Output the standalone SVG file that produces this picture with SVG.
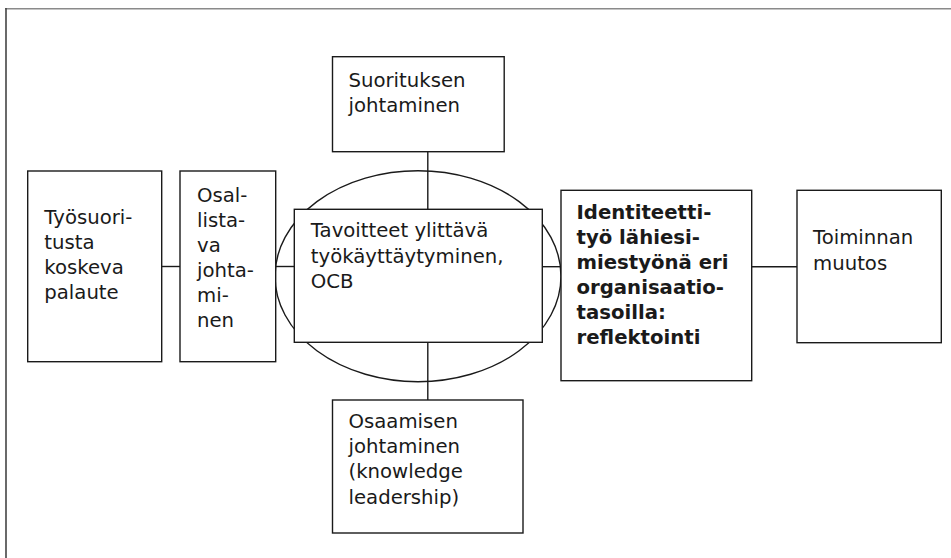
<svg xmlns="http://www.w3.org/2000/svg" width="951" height="558" viewBox="0 0 951 558">
  <style>
    .box { fill: #ffffff; stroke: #1a1a1a; stroke-width: 1.4; }
    .ring { fill: none; stroke: #1a1a1a; stroke-width: 1.4; }
    .link { stroke: #1a1a1a; stroke-width: 1.4; fill: none; }
    .lbl { font-family: "DejaVu Sans", "Liberation Sans", sans-serif; font-size: 19.7px; fill: #1a1a1a; }
    .bold { font-weight: bold; }
  </style>
  <rect width="951" height="558" fill="#ffffff"/>

  <!-- page frame -->
  <g id="frame">
    <line x1="5" y1="8.7" x2="951" y2="8.7" stroke="#8a8a8a" stroke-width="1.6"/>
    <line x1="6" y1="8" x2="6" y2="558" stroke="#444444" stroke-width="1.6"/>
  </g>

  <!-- connectors -->
  <g id="connectors">
    <line class="link" x1="161.7" y1="266.5" x2="180" y2="266.5"/>
    <line class="link" x1="275.7" y1="266.5" x2="294.3" y2="266.5"/>
    <line class="link" x1="542.3" y1="266.7" x2="561" y2="266.7"/>
    <line class="link" x1="751.7" y1="266.7" x2="797" y2="266.7"/>
    <line class="link" x1="427.8" y1="151.7" x2="427.8" y2="209.3"/>
    <line class="link" x1="427.8" y1="342.3" x2="427.8" y2="400"/>
  </g>

  <!-- ring behind the central box -->
  <g id="ocb-ring">
    <ellipse class="ring" cx="418" cy="276.2" rx="143" ry="105.5"/>
  </g>

  <g id="tyosuoritus">
    <rect class="box" x="27.7" y="171" width="134" height="190.7"/>
    <text class="lbl" x="44.3">
      <tspan x="44.3" y="224.3">Työsuori-</tspan>
      <tspan x="44.3" y="249.3">tusta</tspan>
      <tspan x="44.3" y="274.3">koskeva</tspan>
      <tspan x="44.3" y="299.3">palaute</tspan>
    </text>
  </g>

  <g id="osallistava">
    <rect class="box" x="180" y="171" width="95.7" height="190.7"/>
    <text class="lbl">
      <tspan x="197" y="202.3">Osal-</tspan>
      <tspan x="197" y="227.3">lista-</tspan>
      <tspan x="197" y="252.3">va</tspan>
      <tspan x="197" y="277.3">johta-</tspan>
      <tspan x="197" y="302.3">mi-</tspan>
      <tspan x="197" y="327.3">nen</tspan>
    </text>
  </g>

  <g id="suorituksen">
    <rect class="box" x="332.5" y="56.7" width="171.7" height="95"/>
    <text class="lbl">
      <tspan x="348.5" y="86.7">Suorituksen</tspan>
      <tspan x="348.5" y="111.7">johtaminen</tspan>
    </text>
  </g>

  <g id="ocb">
    <rect class="box" x="294.3" y="209.3" width="248" height="133"/>
    <text class="lbl">
      <tspan x="310.8" y="237.3">Tavoitteet ylittävä</tspan>
      <tspan x="310.8" y="262.5">työkäyttäytyminen,</tspan>
      <tspan x="310.8" y="287.7">OCB</tspan>
    </text>
  </g>

  <g id="osaamisen">
    <rect class="box" x="332.5" y="400" width="190.5" height="133"/>
    <text class="lbl">
      <tspan x="348.5" y="428.3">Osaamisen</tspan>
      <tspan x="348.5" y="453.3">johtaminen</tspan>
      <tspan x="348.5" y="478.3">(knowledge</tspan>
      <tspan x="348.5" y="503.6">leadership)</tspan>
    </text>
  </g>

  <g id="identiteetti">
    <rect class="box" x="561" y="190.3" width="190.7" height="190.4"/>
    <text class="lbl bold">
      <tspan x="576.5" y="219">Identiteetti-</tspan>
      <tspan x="576.5" y="244">työ lähiesi-</tspan>
      <tspan x="576.5" y="269">miestyönä eri</tspan>
      <tspan x="576.5" y="294">organisaatio-</tspan>
      <tspan x="576.5" y="319">tasoilla:</tspan>
      <tspan x="576.5" y="344">reflektointi</tspan>
    </text>
  </g>

  <g id="toiminnan">
    <rect class="box" x="797" y="190.3" width="144.3" height="152.4"/>
    <text class="lbl">
      <tspan x="813" y="244.3">Toiminnan</tspan>
      <tspan x="813" y="269.6">muutos</tspan>
    </text>
  </g>
</svg>
